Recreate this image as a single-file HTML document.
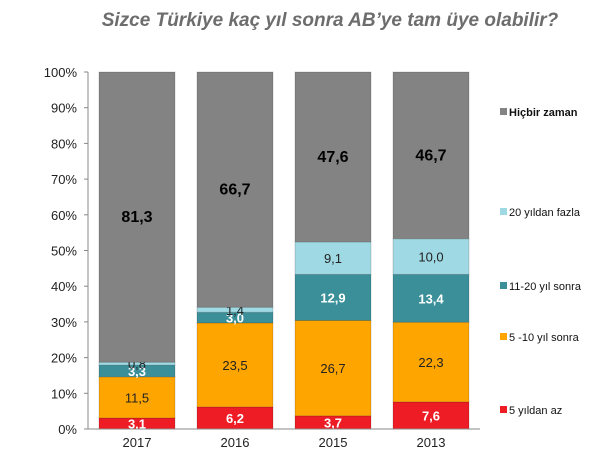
<!DOCTYPE html>
<html><head><meta charset="utf-8"><style>
body{margin:0;background:#fff;font-family:"Liberation Sans","DejaVu Sans",sans-serif}
</style></head><body>
<svg id="c" width="600" height="450" xmlns="http://www.w3.org/2000/svg">
<text x="330" y="26" text-anchor="middle" font-size="19" font-weight="bold" font-style="italic" fill="#6d6d6d">Sizce Türkiye kaç yıl sonra AB’ye tam üye olabilir?</text>
</svg>
<script>
const categories=["2017","2016","2015","2013"];
const seriesNames=["5 yıldan az","5 -10 yıl sonra","11-20 yıl sonra","20 yıldan fazla","Hiçbir zaman"];
const s1=[3.1,6.2,3.7,7.6];
const s2=[11.5,23.5,26.7,22.3];
const s3=[3.3,3.0,12.9,13.4];
const s4=[0.8,1.4,9.1,10.0];
const s5=[81.3,66.7,47.6,46.7];
const yTicks=[0,10,20,30,40,50,60,70,80,90,100];
const series=[s1,s2,s3,s4,s5];
const colors=["#ee1c24","#ffa500","#3a8f99","#9fd9e3","#838383"];
const txtCol=["#fff","#222","#fff","#222","#000"];
const bold=[true,false,true,false,true];
const fsz=[13,13,13,13,16];
const legY=[414,341,290,216,116];
const NS="http://www.w3.org/2000/svg";
const svg=document.getElementById('c');
const x0=88,x1=480,y0=429,y100=72,band=(x1-x0)/categories.length,bw=76;
const y=v=>y0-(Math.min(v,100))/100*(y0-y100);
function mk(t,a){const e=document.createElementNS(NS,t);for(const k in a)e.setAttribute(k,a[k]);svg.appendChild(e);return e;}
yTicks.forEach(t=>{
 const e=mk('text',{x:77,y:y(t)+5,'text-anchor':'end','font-size':13,fill:'#222'});
 
 
 e.textContent=t+'%';
 const l=mk('line',{x1:x0-4,x2:x0,y1:y(t),y2:y(t),stroke:'#888'});
 
 
});
categories.forEach((c,i)=>{
 const cx=x0+band*(i+0.5);let cum=0;
 series.forEach((s,j)=>{
  const v=s[i];const top=y(cum+v),bot=y(cum);cum+=v;
  const r=mk('rect',{x:cx-bw/2,y:top,width:bw,height:Math.max(0,bot-top),fill:colors[j],stroke:'rgba(0,0,0,0.15)'});
  
  
  const t=mk('text',{x:cx,y:(top+bot)/2+5,'text-anchor':'middle','font-size':fsz[j],'font-weight':bold[j]?'bold':'normal',fill:txtCol[j]});
  
  
  t.textContent=v.toFixed(1).replace('.',',');
 });
 const xl=mk('text',{x:cx,y:447,'text-anchor':'middle','font-size':13,fill:'#222'});
 
 
 xl.textContent=c;
});
const ax=mk('line',{x1:x0,x2:x0,y1:y100,y2:y0,stroke:'#888'});


const bx=mk('line',{x1:x0,x2:x1,y1:y0,y2:y0,stroke:'#888'});


seriesNames.forEach((n,j)=>{
 const r=mk('rect',{x:500,y:legY[j]-8,width:7,height:7,fill:colors[j]});
 
 
 const t=mk('text',{x:509,y:legY[j],'font-size':11,'font-weight':j==4?'bold':'normal',fill:'#111'});
 
 
 t.textContent=n;
});
</script>
</body></html>
